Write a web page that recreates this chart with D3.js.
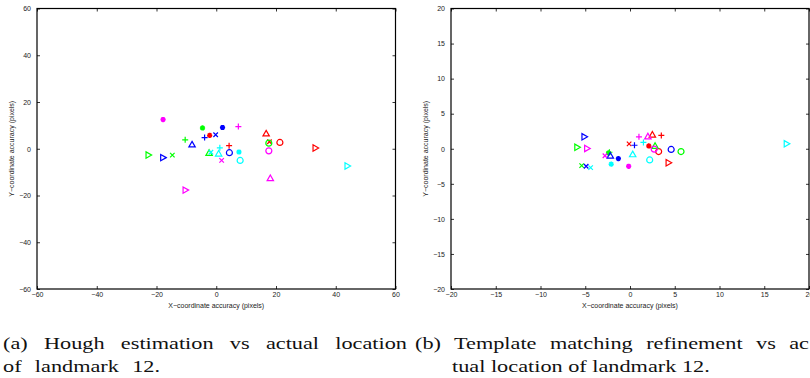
<!DOCTYPE html>
<html>
<head>
  <title>Landmark 12 accuracy</title>
  <style>
    body { margin: 0; background: #fff; }
    svg { display: block; }
    .tick-label { font-family: "Liberation Sans", Arial, sans-serif; font-size: 7px; fill: #222; }
    .axis-title { font-family: "Liberation Sans", Arial, sans-serif; font-size: 7px; fill: #222; }
    .caption { font-family: "Liberation Serif", "DejaVu Serif", serif; font-size: 17px; fill: #111; }
  </style>
</head>
<body>
  <svg id="chart" width="810" height="378"></svg>

  <script src="https://d3js.org/d3.v7.min.js"></script>

  <script>
    // marker colours and shapes (MATLAB style r g b c m / + o * x ^ >)
    const colours = { r: '#ff0000', g: '#00ff00', b: '#0000ff', c: '#00ffff', m: '#ff00ff' };
    const markers = ['+', 'o', '*', 'x', '^', '>'];

    // (a) Hough estimation error, [colour, marker, x, y]
    const houghPoints = [
      ['r', '+', 4.3, 1.3], ['r', 'o', 21.3, 2.7], ['r', '*', -2.2, 5.7],
      ['r', 'x', 17.8, 3.0], ['r', '^', 16.7, 6.5], ['r', '>', 33.2, 0.3],
      ['g', '+', -10.4, 3.8], ['g', 'o', 17.6, 2.4], ['g', '*', -4.6, 8.9],
      ['g', 'x', -14.7, -2.7], ['g', '^', -2.4, -1.8], ['g', '>', -22.7, -2.7],
      ['b', '+', -3.9, 4.8], ['b', 'o', 4.4, -1.7], ['b', '*', 2.1, 9.1],
      ['b', 'x', -0.2, 6.0], ['b', '^', -8.1, 1.8], ['b', '>', -17.8, -3.8],
      ['c', '+', 1.2, 0.4], ['c', 'o', 8.0, -5.0], ['c', '*', 7.6, -1.4],
      ['c', 'x', -1.8, -1.5], ['c', '^', 0.8, -2.1], ['c', '>', 43.9, -7.4],
      ['m', '+', 7.4, 9.5], ['m', 'o', 17.6, -0.9], ['m', '*', -17.8, 12.5],
      ['m', 'x', 1.8, -5.0], ['m', '^', 18.1, -12.6], ['m', '>', -10.3, -17.7]
    ];

    // (b) template matching refinement error
    const templatePoints = [
      ['r', '+', 3.5, 1.9], ['r', 'o', 3.2, -0.4], ['r', '*', 2.1, 0.4],
      ['r', 'x', -0.1, 0.7], ['r', '^', 2.5, 2.0], ['r', '>', 4.3, -2.0],
      ['g', '+', -2.3, -0.5], ['g', 'o', 5.7, -0.4], ['g', '*', -2.4, -0.6],
      ['g', 'x', -5.4, -2.4], ['g', '^', 2.8, 0.4], ['g', '>', -5.9, 0.2],
      ['b', '+', 0.5, 0.5], ['b', 'o', 4.6, -0.1], ['b', '*', -1.3, -1.4],
      ['b', 'x', -4.9, -2.5], ['b', '^', -2.2, -1.0], ['b', '>', -5.1, 1.7],
      ['c', '+', 1.5, 0.9], ['c', 'o', 2.2, -1.6], ['c', '*', -2.1, -2.2],
      ['c', 'x', -4.4, -2.7], ['c', '^', 0.3, -0.8], ['c', '>', 17.5, 0.7],
      ['m', '+', 1.0, 1.7], ['m', 'o', 2.7, -0.05], ['m', '*', -0.15, -2.5],
      ['m', 'x', -2.8, -1.0], ['m', '^', 2.0, 1.75], ['m', '>', -4.8, 0.05]
    ];

    const houghTicks = [-60, -40, -20, 0, 20, 40, 60];
    const templateTicks = [-20, -15, -10, -5, 0, 5, 10, 15, 20];

    const xTitle = 'X\u2212coordinate accuracy (pixels)';
    const yTitle = 'Y\u2212coordinate accuracy (pixels)';

    // custom marker shapes, size = half width in px
    const shapes = {
      '+': { draw(c, r) { c.moveTo(-r, 0); c.lineTo(r, 0); c.moveTo(0, -r); c.lineTo(0, r); } },
      'x': { draw(c, r) { const k = r * 0.75; c.moveTo(-k, -k); c.lineTo(k, k); c.moveTo(-k, k); c.lineTo(k, -k); } },
      '*': { draw(c, r) {
        c.moveTo(-r, 0); c.lineTo(r, 0); c.moveTo(0, -r); c.lineTo(0, r);
        const k = r * 0.72; c.moveTo(-k, -k); c.lineTo(k, k); c.moveTo(-k, k); c.lineTo(k, -k);
      } },
      'o': { draw(c, r) { c.moveTo(r, 0); c.arc(0, 0, r, 0, 2 * Math.PI); } },
      '^': { draw(c, r) { c.moveTo(0, -r); c.lineTo(r, r * 0.75); c.lineTo(-r, r * 0.75); c.closePath(); } },
      '>': { draw(c, r) { c.moveTo(r, 0); c.lineTo(-r * 0.75, -r); c.lineTo(-r * 0.75, r); c.closePath(); } }
    };
    const shapeSize = { '+': 3, 'x': 3, '*': 2.6, 'o': 3, '^': 3.2, '>': 3.2 };

    const svg = d3.select('#chart');
    const fmt = d => d < 0 ? '\u2212' + Math.abs(d) : d;

    function drawPanel(box, ticks, points) {
      const lo = ticks[0], hi = ticks[ticks.length - 1];
      const x = d3.scaleLinear().domain([lo, hi]).range([box.left, box.right]);
      const y = d3.scaleLinear().domain([lo, hi]).range([box.bottom, box.top]);
      const g = svg.append('g');

      // axes with inward ticks on all four sides
      const bottom = g.append('g').attr('transform', `translate(0,${box.bottom})`)
        .call(d3.axisBottom(x).tickValues(ticks).tickSizeInner(-3).tickSizeOuter(0).tickPadding(6).tickFormat(fmt));
      const top = g.append('g').attr('transform', `translate(0,${box.top})`)
        .call(d3.axisTop(x).tickValues(ticks).tickSizeInner(-3).tickSizeOuter(0).tickFormat(''));
      const left = g.append('g').attr('transform', `translate(${box.left},0)`)
        .call(d3.axisLeft(y).tickValues(ticks).tickSizeInner(-3).tickSizeOuter(0).tickPadding(6).tickFormat(fmt));
      const right = g.append('g').attr('transform', `translate(${box.right},0)`)
        .call(d3.axisRight(y).tickValues(ticks).tickSizeInner(-3).tickSizeOuter(0).tickFormat(''));

      [bottom, top, left, right].forEach(a => {
        a.select('.domain').remove();
        a.attr('font-size', null).attr('font-family', null);
        a.selectAll('line').attr('stroke', '#000').attr('stroke-width', 0.8);
        a.selectAll('text').attr('class', 'tick-label');
      });
      bottom.selectAll('text').attr('dy', '0.35em');

      g.append('rect')
        .attr('x', box.left).attr('y', box.top)
        .attr('width', box.right - box.left).attr('height', box.bottom - box.top)
        .attr('fill', 'none').attr('stroke', '#000').attr('stroke-width', 1.2);

      g.append('text').attr('class', 'axis-title')
        .attr('x', (box.left + box.right) / 2).attr('y', 308)
        .attr('text-anchor', 'middle').text(xTitle);

      g.append('text').attr('class', 'axis-title')
        .attr('transform', `translate(${box.left - 23},${(box.top + box.bottom) / 2}) rotate(-90)`)
        .attr('text-anchor', 'middle').text(yTitle);

      g.append('g').selectAll('path')
        .data(points)
        .join('path')
        .attr('transform', d => `translate(${x(d[2])},${y(d[3])})`)
        .attr('d', d => d3.symbol().type(shapes[d[1]]).size(shapeSize[d[1]])())
        .attr('fill', 'none')
        .attr('stroke', d => colours[d[0]])
        .attr('stroke-width', d => d[1] === '*' ? 1.6 : 1.2);
    }

    drawPanel({ left: 37, right: 395.5, top: 8.5, bottom: 289 }, houghTicks, houghPoints);
    drawPanel({ left: 451, right: 809, top: 8.5, bottom: 289 }, templateTicks, templatePoints);

    // captions: justified first lines, as in the LaTeX subfigure captions
    const captions = [
      { x: 3, y: 349, text: '(a) Hough estimation vs actual location', width: 404 },
      { x: 3, y: 372, text: 'of landmark 12.', width: 157 },
      { x: 415, y: 349, text: '(b) Template matching refinement vs ac', width: 394 },
      { x: 452, y: 372, text: 'tual location of landmark 12.', width: null }
    ];
    const nodes = captions.map(c => svg.append('text').attr('class', 'caption').text(c.text));
    // horizontal stretch so the serif face is about as wide as the original
    const sx = 258 / nodes[3].node().getComputedTextLength();
    nodes.forEach((t, i) => {
      const c = captions[i];
      t.attr('transform', `translate(${c.x},${c.y}) scale(${sx},1)`);
      const spaces = c.text.split(' ').length - 1;
      if (c.width && spaces > 0) {
        const natural = t.node().getComputedTextLength();
        const extra = Math.max(0, (c.width / sx - natural) / spaces);
        t.style('word-spacing', extra + 'px');
      }
    });
  </script>
</body>
</html>
